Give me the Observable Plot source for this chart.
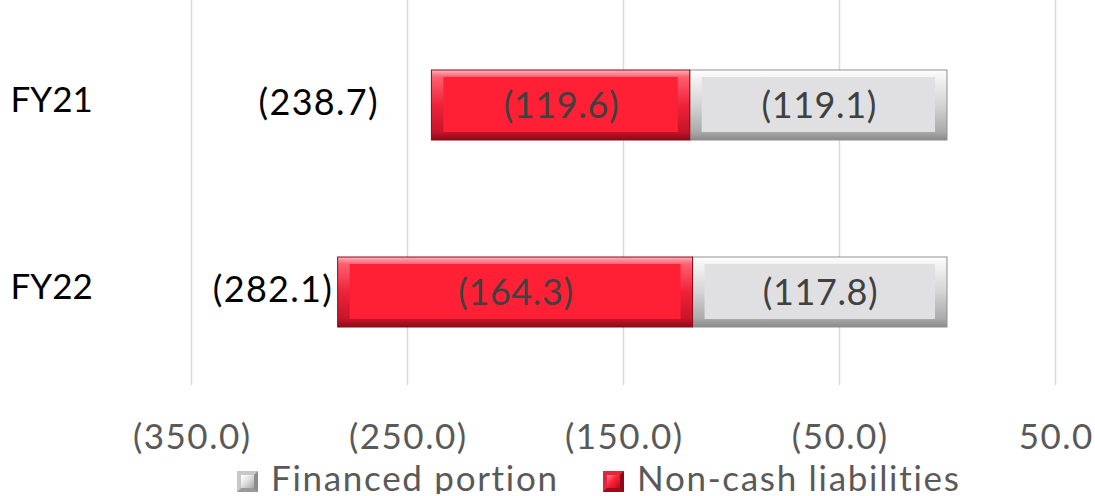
<!DOCTYPE html>
<html>
<head>
<meta charset="utf-8">
<script src="https://cdn.jsdelivr.net/npm/d3@7"></script>
<script src="https://cdn.jsdelivr.net/npm/@observablehq/plot@0.6"></script>
<style>
  html, body { margin: 0; padding: 0; background: #fff; }
  #chart svg { display: block; overflow: visible; }
  .legend { font-family: Lato, sans-serif; font-size: 35px; line-height: 31px; color: #595959;
            position: relative; height: 32px; margin-top: 2px; letter-spacing: 1.7px; }
  .legend .item { position: absolute; top: 0; white-space: nowrap; }
  .legend .sw { display: inline-block; width: 21px; height: 21px; margin-right: 13px; vertical-align: -1px;
                box-sizing: border-box; }
  .sw.fin { background: linear-gradient(135deg, #ffffff 0%, #e6e6e6 40%, #a6a6a6 100%); border: 4px solid #c8c8c8; border-right-color:#8c8c8c; border-bottom-color:#9a9a9a; }
  .sw.non { background: linear-gradient(135deg, #ff8090 0%, #ff2035 45%, #b00c1e 100%); border: 4px solid #e0283c; border-right-color:#8a0a18; border-bottom-color:#9a0c1c; }
</style>
</head>
<body>
<div id="chart"></div>
<div class="legend">
  <span class="item" style="left:237px"><span class="sw fin"></span>Financed portion</span>
  <span class="item" style="left:603px"><span class="sw non"></span>Non-cash liabilities</span>
</div>
<script>
const years = ["FY21", "FY22"];
const seriesNames = ["Financed portion", "Non-cash liabilities"];
const financed = [-119.1, -117.8];
const nonCash = [-119.6, -164.3];
const totals = [-238.7, -282.1];
const xTicks = [-350, -250, -150, -50, 50];

const fmt = v => v < 0 ? `(${Math.abs(v).toFixed(1)})` : v.toFixed(1);

const rows = [];
years.forEach((y, i) => {
  rows.push({year: y, series: seriesNames[0], value: financed[i]});
  rows.push({year: y, series: seriesNames[1], value: nonCash[i]});
});
const totalRows = years.map((y, i) => ({year: y, total: totals[i]}));

const outerFill = d => d.series === seriesNames[0] ? "url(#gFin)" : "url(#gNon)";
const innerFill = d => d.series === seriesNames[0] ? "#e0e0e2" : "#ff2035";
const edgeStroke = d => d.series === seriesNames[0] ? "#8f8f8f" : "#8a0a18";

const chart = Plot.plot({
  width: 1095,
  height: 460,
  marginLeft: 191,
  marginRight: 40,
  marginTop: 0,
  marginBottom: 75,
  style: {fontFamily: "Lato, sans-serif", background: "#fff", overflow: "visible"},
  x: {domain: [-350, 50]},
  y: {domain: years, range: [70, 327], paddingInner: 0.626, paddingOuter: 0, axis: null},
  color: {type: "identity"},
  marks: [
    Plot.ruleX(xTicks, {stroke: "#d9d9d9", strokeWidth: 1.5}),
    Plot.barX(rows, Plot.stackX({x: "value", y: "year", fill: outerFill, stroke: edgeStroke, strokeWidth: 1, order: null})),
    Plot.barX(rows, Plot.stackX({x: "value", y: "year", fill: innerFill, order: null,
      insetLeft: 12, insetRight: 12, insetTop: 7, insetBottom: 8})),
    Plot.text(rows, Plot.stackX({x: "value", y: "year", text: d => fmt(d.value), order: null,
      fill: "#404040", fontSize: 36, dy: 1, dx: 0.3, className: "barlab"})),
    Plot.text(totalRows.filter(d => d.year === years[0]), {x: "total", y: "year", text: d => fmt(d.total),
      textAnchor: "end", dx: -53, dy: -2, fontSize: 36, fill: "#000", className: "totlab"}),
    Plot.text(totalRows.filter(d => d.year === years[1]), {x: "total", y: "year", text: d => fmt(d.total),
      textAnchor: "end", dx: -5, dy: -2, fontSize: 36, fill: "#000", className: "totlab"}),
    Plot.text(years, {y: d => d, text: d => d, frameAnchor: "left", textAnchor: "start",
      dx: -181, dy: -5, fontSize: 35, fill: "#000"}),
    Plot.axisX(xTicks, {tickSize: 0, tickPadding: 39, tickFormat: fmt, fontSize: 35, dx: 0.75, fill: "#595959", className: "ticklab"})
  ]
});

const ns = "http://www.w3.org/2000/svg";
const defs = document.createElementNS(ns, "defs");
defs.innerHTML = `
  <linearGradient id="gNon" x1="0" y1="0" x2="0" y2="1">
    <stop offset="0" stop-color="#ffb3bc"/>
    <stop offset="0.1" stop-color="#ff6070"/>
    <stop offset="0.5" stop-color="#f02238"/>
    <stop offset="0.88" stop-color="#c8142a"/>
    <stop offset="1" stop-color="#8a0a18"/>
  </linearGradient>
  <linearGradient id="gFin" x1="0" y1="0" x2="0" y2="1">
    <stop offset="0" stop-color="#ffffff"/>
    <stop offset="0.1" stop-color="#f4f4f4"/>
    <stop offset="0.5" stop-color="#d4d4d4"/>
    <stop offset="0.88" stop-color="#aaaaaa"/>
    <stop offset="1" stop-color="#8a8a8a"/>
  </linearGradient>`;
chart.insertBefore(defs, chart.firstChild);
d3.select(chart).selectAll(".barlab text").attr("letter-spacing", "0.6px");
d3.select(chart).selectAll(".totlab text").attr("letter-spacing", "1.3px");
d3.select(chart).selectAll(".ticklab text").attr("letter-spacing", "1.5px");
document.getElementById("chart").appendChild(chart);
</script>
</body>
</html>
